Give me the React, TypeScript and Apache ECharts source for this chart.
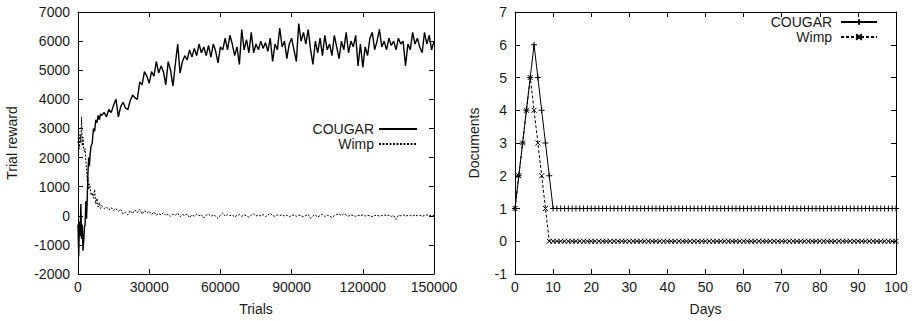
import { useEffect, useRef } from 'react';
import * as echarts from 'echarts';

// ---------- Left chart: Trial reward vs Trials ----------
const earlyTrials = [0, 300, 600, 900, 1200, 1500, 1800, 2100, 2400, 2700, 3000, 3300, 3600, 3900, 4200, 4500, 4800, 5100, 5500, 6000, 6500, 7000, 7500, 8000, 8500, 9000, 9500];
const cougarEarly = [-300, -1400, -200, -700, 400, -800, -300, -1200, -900, -400, -300, 500, -100, 600, 1500, 2000, 1700, 2100, 2400, 2500, 3000, 2900, 3300, 3200, 3450, 3300, 3500];
const wimpEarly = [2500, 2900, 2300, 2800, 2500, 3400, 2400, 2700, 2300, 2200, 2300, 1900, 1600, 1200, 1300, 900, 1100, 1000, 700, 800, 600, 900, 400, 600, 300, 450, 250];

// sampled every 1000 trials from 10000 to 150000
const laterTrialStart = 10000;
const laterTrialStep = 1000;
const cougarLater = [
  3450, 3550, 3400, 3650, 3550, 3800, 4000, 3400, 3750, 3900,
  3700, 3650, 3950, 4150, 4050, 4000, 4600, 4500, 4950, 4800,
  4550, 4950, 4800, 5300, 4900, 5150, 4950, 4500, 5300, 5000,
  4450, 5200, 5900, 4900, 5300, 5500, 5350, 5700, 5450, 5750,
  5500, 5900, 5600, 5800, 5500, 5850, 5450, 5900, 5650, 5250,
  5800, 5700, 6100, 5700, 6200, 5900, 5500, 5800, 5200, 6400,
  5700, 6050, 5600, 6300, 5600, 5900, 5700, 6000, 5750, 5950,
  5650, 6100, 5300, 5900, 5700, 6450, 5800, 6000, 5400, 5900,
  6100, 5700, 5300, 6600, 6000, 6300, 5900, 6400, 5700, 5200,
  6000, 5600, 6100, 5500, 6200, 5700, 5900, 5500, 6200, 5800,
  5400, 6000, 5700, 6300, 5600, 6000, 5800, 6200, 5150, 5900,
  5100, 5800, 5500, 6100, 6300, 5700, 6000, 6400, 5800, 6000,
  5700, 6100, 5850, 6000, 5700, 6100, 5900, 6000, 5150, 5900,
  5700, 6300, 5900, 6100, 5800, 5600, 6300, 5900, 6200, 5700,
  6000
];
const wimpLater = [
  350, 250, 300, 200, 280, 180, 250, 150, 220, 60,
  120, 30, 180, 80, 200, 100, 220, 60, 180, 90,
  150, 40, 120, 20, 80, 30, 110, 10, 60, -20,
  50, 20, 90, -30, 40, 10, 60, -60, 30, -10,
  50, 0, 40, -80, 20, 60, -20, 30, -10, -90,
  20, 100, -10, 40, 0, 30, -40, 10, 40, -20,
  30, 0, -50, 20, 60, -10, 30, 0, 40, -30,
  20, 90, 10, -20, 30, 0, 40, -10, 20, -30,
  10, 30, -20, 20, 0, -30, 10, 40, -90, 0,
  30, -40, 10, 50, -20, 20, -10, -60, 10, 40,
  60, 0, 70, 20, -10, 30, 10, -20, 20, 0,
  30, -10, 20, 0, -30, 10, 20, -10, 10, 30,
  0, 20, -20, 10, -130, 20, 0, 30, -10, 10,
  20, -10, 30, 0, 20, -20, 10, 30, 0, 20,
  10
];

// ---------- Right chart: Documents vs Days ----------
const days = Array.from({ length: 101 }, (_, i) => i);
const cougarDocs = [
  1, 2, 3, 4, 5, 6, 5, 4, 3, 2,
  1, 1, 1, 1, 1, 1, 1, 1, 1, 1,
  1, 1, 1, 1, 1, 1, 1, 1, 1, 1,
  1, 1, 1, 1, 1, 1, 1, 1, 1, 1,
  1, 1, 1, 1, 1, 1, 1, 1, 1, 1,
  1, 1, 1, 1, 1, 1, 1, 1, 1, 1,
  1, 1, 1, 1, 1, 1, 1, 1, 1, 1,
  1, 1, 1, 1, 1, 1, 1, 1, 1, 1,
  1, 1, 1, 1, 1, 1, 1, 1, 1, 1,
  1, 1, 1, 1, 1, 1, 1, 1, 1, 1,
  1
];
const wimpDocs = [
  1, 2, 3, 4, 5, 4, 3, 2, 1, 0,
  0, 0, 0, 0, 0, 0, 0, 0, 0, 0,
  0, 0, 0, 0, 0, 0, 0, 0, 0, 0,
  0, 0, 0, 0, 0, 0, 0, 0, 0, 0,
  0, 0, 0, 0, 0, 0, 0, 0, 0, 0,
  0, 0, 0, 0, 0, 0, 0, 0, 0, 0,
  0, 0, 0, 0, 0, 0, 0, 0, 0, 0,
  0, 0, 0, 0, 0, 0, 0, 0, 0, 0,
  0, 0, 0, 0, 0, 0, 0, 0, 0, 0,
  0, 0, 0, 0, 0, 0, 0, 0, 0, 0,
  0
];

const FONT = 'Liberation Sans, Arial, Helvetica, sans-serif';
const TXT = '#1a1a1a';
const FS = 14;

function buildPairs(early: number[], later: number[]): number[][] {
  const out: number[][] = early.map((v, i) => [earlyTrials[i], v]);
  later.forEach((v, i) => out.push([laterTrialStart + i * laterTrialStep, v]));
  return out;
}

const plusSymbol = 'path://M0,5L10,5M5,0L5,10';
const crossSymbol = 'path://M0,0L10,10M10,0L0,10';

function frameAxis(gridIndex: number, kind: 'x' | 'y', min: number, max: number, interval: number, withLabels: boolean, position: string, name?: string, nameGap?: number) {
  return {
    type: 'value',
    gridIndex,
    position,
    min,
    max,
    interval,
    name: name || '',
    nameLocation: 'middle',
    nameGap: nameGap || 0,
    nameTextStyle: { fontFamily: FONT, fontSize: FS, color: TXT },
    axisLine: { show: true, onZero: false, lineStyle: { color: '#000', width: 1 } },
    axisTick: { show: true, inside: true, length: 5, lineStyle: { color: '#000', width: 1 } },
    axisLabel: {
      show: withLabels,
      fontFamily: FONT,
      fontSize: FS,
      color: TXT,
      margin: kind === 'x' ? 6 : 8,
      formatter: (v: number) => String(v),
    },
    splitLine: { show: false },
  };
}

const legendText = { fontFamily: FONT, fontSize: FS, color: TXT, lineHeight: 14 };

const option: any = {
  animation: false,
  backgroundColor: '#fff',
  grid: [
    { left: 78, top: 12, width: 356, height: 262 },
    { left: 515, top: 12, width: 381, height: 262 },
  ],
  xAxis: [
    frameAxis(0, 'x', 0, 150000, 30000, true, 'bottom', 'Trials', 28),
    frameAxis(0, 'x', 0, 150000, 30000, false, 'top'),
    frameAxis(1, 'x', 0, 100, 10, true, 'bottom', 'Days', 28),
    frameAxis(1, 'x', 0, 100, 10, false, 'top'),
  ],
  yAxis: [
    frameAxis(0, 'y', -2000, 7000, 1000, true, 'left', 'Trial reward', 59),
    frameAxis(0, 'y', -2000, 7000, 1000, false, 'right'),
    frameAxis(1, 'y', -1, 7, 1, true, 'left', 'Documents', 34),
    frameAxis(1, 'y', -1, 7, 1, false, 'right'),
  ],
  legend: [
    {
      orient: 'vertical',
      align: 'right',
      right: 497,
      top: 122,
      padding: 0,
      itemGap: 1,
      itemWidth: 38,
      itemHeight: 14,
      data: ['COUGAR', 'Wimp'],
      itemStyle: { opacity: 0 },
      textStyle: legendText,
      selectedMode: false,
    },
    {
      orient: 'vertical',
      align: 'right',
      right: 37,
      top: 15,
      padding: 0,
      itemGap: 1,
      itemWidth: 36,
      itemHeight: 7,
      data: ['COUGAR ', 'Wimp '],
      textStyle: legendText,
      selectedMode: false,
    },
  ],
  series: [
    {
      name: 'COUGAR',
      type: 'line',
      xAxisIndex: 0,
      yAxisIndex: 0,
      data: buildPairs(cougarEarly, cougarLater),
      symbol: 'none',
      lineStyle: { color: '#000', width: 1.4 },
      itemStyle: { color: '#000' },
    },
    {
      name: 'Wimp',
      type: 'line',
      xAxisIndex: 0,
      yAxisIndex: 0,
      data: buildPairs(wimpEarly, wimpLater),
      symbol: 'none',
      lineStyle: { color: '#000', width: 1, type: [2, 1.5] },
      itemStyle: { color: '#000' },
    },
    {
      name: 'COUGAR ',
      type: 'line',
      xAxisIndex: 2,
      yAxisIndex: 2,
      data: days.map((d, i) => [d, cougarDocs[i]]),
      symbol: plusSymbol,
      symbolSize: 6,
      showAllSymbol: true,
      lineStyle: { color: '#000', width: 1 },
      itemStyle: { color: '#000', borderColor: '#000', borderWidth: 1 },
    },
    {
      name: 'Wimp ',
      type: 'line',
      xAxisIndex: 2,
      yAxisIndex: 2,
      data: days.map((d, i) => [d, wimpDocs[i]]),
      symbol: crossSymbol,
      symbolSize: 5,
      showAllSymbol: true,
      lineStyle: { color: '#000', width: 1, type: [3, 2] },
      itemStyle: { color: '#000', borderColor: '#000', borderWidth: 1 },
    },
  ],
};

export default function App() {
  const ref = useRef<HTMLDivElement>(null);
  useEffect(() => {
    document.body.style.margin = '0';
    const chart = echarts.init(ref.current!, null, { renderer: 'svg' });
    chart.setOption(option);
    return () => chart.dispose();
  }, []);
  return <div ref={ref} style={{ width: 915, height: 321 }} />;
}
